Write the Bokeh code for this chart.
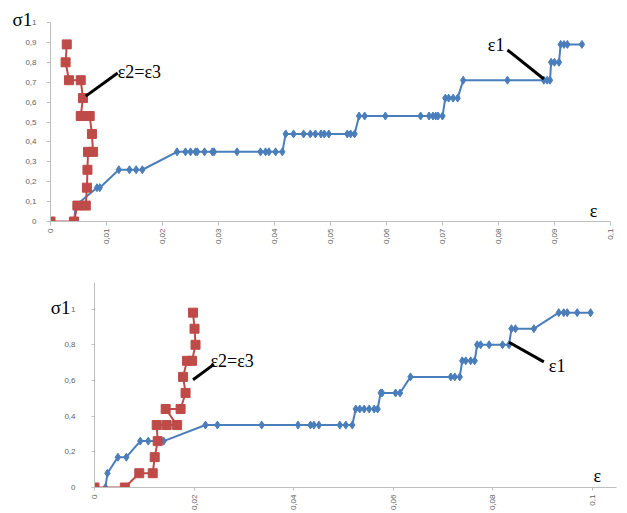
import math
from bokeh.plotting import figure
from bokeh.layouts import column
from bokeh.models import Range1d, FixedTicker, Label
from bokeh.embed import file_html
from bokeh.resources import INLINE

# ---------------- data: top chart ----------------
top_e1_x = [0.0042, 0.0045, 0.0083, 0.0088, 0.0122, 0.0141, 0.0153, 0.0164,
            0.0226, 0.0241, 0.0250, 0.0259, 0.0262, 0.0275, 0.0289, 0.0292, 0.0333, 0.0375, 0.0384, 0.0390, 0.0402, 0.0414,
            0.0420, 0.0434, 0.0452, 0.0464, 0.0473, 0.0483, 0.0489, 0.0497, 0.0530, 0.0536, 0.0543,
            0.0551, 0.0561, 0.0598, 0.0661, 0.0676, 0.0683, 0.0688, 0.0692, 0.0700,
            0.0705, 0.0711, 0.0719, 0.0727,
            0.0737, 0.0816, 0.0881, 0.0887, 0.0892,
            0.0894, 0.0900, 0.0908,
            0.0911, 0.0917, 0.0923, 0.0949]
top_e1_y = [0, 0.08, 0.17, 0.17, 0.26, 0.26, 0.26, 0.26,
            0.35, 0.35, 0.35, 0.35, 0.35, 0.35, 0.35, 0.35, 0.35, 0.35, 0.35, 0.35, 0.35, 0.35,
            0.44, 0.44, 0.44, 0.44, 0.44, 0.44, 0.44, 0.44, 0.44, 0.44, 0.44,
            0.53, 0.53, 0.53, 0.53, 0.53, 0.53, 0.53, 0.53, 0.53,
            0.62, 0.62, 0.62, 0.62,
            0.71, 0.71, 0.71, 0.71, 0.71,
            0.80, 0.80, 0.80,
            0.89, 0.89, 0.89, 0.89]
top_e23_x = [0, 0.0042, 0.0048, 0.0063, 0.0065, 0.0066, 0.0067, 0.0076, 0.0074,
             0.0070, 0.0054, 0.0058, 0.0054, 0.0033, 0.0027, 0.0029]
top_e23_y = [0, 0, 0.08, 0.08, 0.17, 0.26, 0.35, 0.35, 0.44,
             0.53, 0.53, 0.62, 0.71, 0.71, 0.80, 0.89]
top_x_ticks = [0, 0.01, 0.02, 0.03, 0.04, 0.05, 0.06, 0.07, 0.08, 0.09, 0.1]
top_x_labels = ["0", "0,01", "0,02", "0,03", "0,04", "0,05", "0,06", "0,07", "0,08", "0,09", "0,1"]
top_y_ticks = [0, 0.1, 0.2, 0.3, 0.4, 0.5, 0.6, 0.7, 0.8, 0.9, 1]
top_y_labels = ["0", "0,1", "0,2", "0,3", "0,4", "0,5", "0,6", "0,7", "0,8", "0,9", "1"]

# ---------------- data: bottom chart ----------------
bot_e1_x = [0.0022, 0.0026, 0.0047, 0.0064, 0.0092, 0.0108, 0.0126, 0.0139,
            0.0223, 0.0247, 0.0336, 0.0409, 0.0434, 0.0441, 0.0451, 0.0493, 0.0505, 0.0518,
            0.0525, 0.0533, 0.0542, 0.0552, 0.0562, 0.0569,
            0.0575, 0.0578, 0.0605, 0.0614,
            0.0635, 0.0716, 0.0724, 0.0734,
            0.0739, 0.0746, 0.0756, 0.0764,
            0.0769, 0.0776, 0.0793, 0.0820, 0.0833,
            0.0838, 0.0846, 0.0883,
            0.0933, 0.0943, 0.0950, 0.0970, 0.0997]
bot_e1_y = [0, 0.08, 0.17, 0.17, 0.26, 0.26, 0.26, 0.26,
            0.35, 0.35, 0.35, 0.35, 0.35, 0.35, 0.35, 0.35, 0.35, 0.35,
            0.44, 0.44, 0.44, 0.44, 0.44, 0.44,
            0.53, 0.53, 0.53, 0.53,
            0.62, 0.62, 0.62, 0.62,
            0.71, 0.71, 0.71, 0.71,
            0.80, 0.80, 0.80, 0.80, 0.80,
            0.89, 0.89, 0.89,
            0.98, 0.98, 0.98, 0.98, 0.98]
bot_e23_x = [0, 0.0061, 0.0090, 0.0117, 0.0121, 0.0127, 0.0125, 0.0145, 0.0166,
             0.0143, 0.0173, 0.0183, 0.0178, 0.0186, 0.0196, 0.0203, 0.0201, 0.0198]
bot_e23_y = [0, 0, 0.08, 0.08, 0.17, 0.26, 0.35, 0.35, 0.35,
             0.44, 0.44, 0.53, 0.62, 0.71, 0.71, 0.80, 0.89, 0.98]
bot_x_ticks = [0, 0.02, 0.04, 0.06, 0.08, 0.1]
bot_x_labels = ["0", "0,02", "0,04", "0,06", "0,08", "0,1"]
bot_y_ticks = [0, 0.2, 0.4, 0.6, 0.8, 1]
bot_y_labels = ["0", "0,2", "0,4", "0,6", "0,8", "1"]

BLUE = "#4a7ebb"
RED = "#be4b48"
AXIS = "#bfbfbf"
TICKTXT = "#5f5f5f"
SERIF = "Liberation Serif"


def style(p, xt, xl, yt, yl, ystand, xstand, tick_out):
    p.xgrid.grid_line_color = None
    p.ygrid.grid_line_color = None
    p.outline_line_color = None
    p.background_fill_color = "white"
    p.border_fill_color = "white"
    if "frame_align" in p.properties():
        p.frame_align = False
    for ax in (p.xaxis[0], p.yaxis[0]):
        ax.axis_line_color = AXIS
        ax.major_tick_line_color = AXIS
        ax.minor_tick_line_color = None
        ax.major_tick_in = 0
        ax.major_tick_out = tick_out
        ax.major_label_text_color = TICKTXT
        ax.major_label_text_font = "Liberation Sans"
        ax.major_label_text_font_size = "8px"
    p.xaxis[0].ticker = FixedTicker(ticks=xt)
    p.xaxis[0].major_label_overrides = dict(zip(xt, xl))
    p.xaxis[0].major_label_orientation = math.pi / 2
    p.xaxis[0].major_label_standoff = xstand
    p.yaxis[0].ticker = FixedTicker(ticks=yt)
    p.yaxis[0].major_label_overrides = dict(zip(yt, yl))
    p.yaxis[0].major_label_standoff = ystand


def series(p, ex, ey, rx, ry):
    p.line(ex, ey, line_color=BLUE, line_width=2)
    p.scatter(ex, ey, marker="diamond", size=8, fill_color=BLUE, line_color=BLUE)
    p.line(rx, ry, line_color=RED, line_width=2)
    p.scatter(rx, ry, marker="square", size=9, fill_color=RED, line_color=RED)


def label(p, x, y, text, size="18px", place="center"):
    p.add_layout(Label(x=x, y=y, text=text, text_font=SERIF, text_font_size=size,
                       text_color="black", text_baseline="alphabetic"), place)


# ---------------- top chart ----------------
p1 = figure(width=619, height=248, x_range=Range1d(0, 0.1), y_range=Range1d(0, 1),
            output_backend="svg", toolbar_location=None,
            min_border_left=50, min_border_right=9, min_border_top=22, min_border_bottom=27)
style(p1, top_x_ticks, top_x_labels, top_y_ticks, top_y_labels, 10, 3, 4)
series(p1, top_e1_x, top_e1_y, top_e23_x, top_e23_y)
p1.segment(x0=[0.0120, 0.0816], y0=[0.746, 0.862], x1=[0.0063, 0.0881], y1=[0.630, 0.716],
           line_color="black", line_width=3)
label(p1, -0.0068, 1.013, "σ1", "19px", "left")
label(p1, 0.0120, 0.752, "ε2=ε3")
label(p1, 0.0781, 0.885, "ε1")
label(p1, 0.0963, 0.055, "ε")

# ---------------- bottom chart ----------------
p2 = figure(width=619, height=265, x_range=Range1d(0, 0.1049), y_range=Range1d(0, 1.149),
            output_backend="svg", toolbar_location=None,
            min_border_left=94, min_border_right=3, min_border_top=34, min_border_bottom=23)
style(p2, bot_x_ticks, bot_x_labels, bot_y_ticks, bot_y_labels, 16, 4, 3)
series(p2, bot_e1_x, bot_e1_y, bot_e23_x, bot_e23_y)
p2.segment(x0=[0.0240, 0.0903], y0=[0.690, 0.704], x1=[0.0198, 0.0833], y1=[0.604, 0.814],
           line_color="black", line_width=3)
label(p2, -0.0088, 1.011, "σ1", "19px", "left")
label(p2, 0.0233, 0.707, "ε2=ε3")
label(p2, 0.0913, 0.680, "ε1")
label(p2, 0.1003, 0.066, "ε")

layout = column(p1, p2)
open("out.html", "w").write(file_html(layout, INLINE))
